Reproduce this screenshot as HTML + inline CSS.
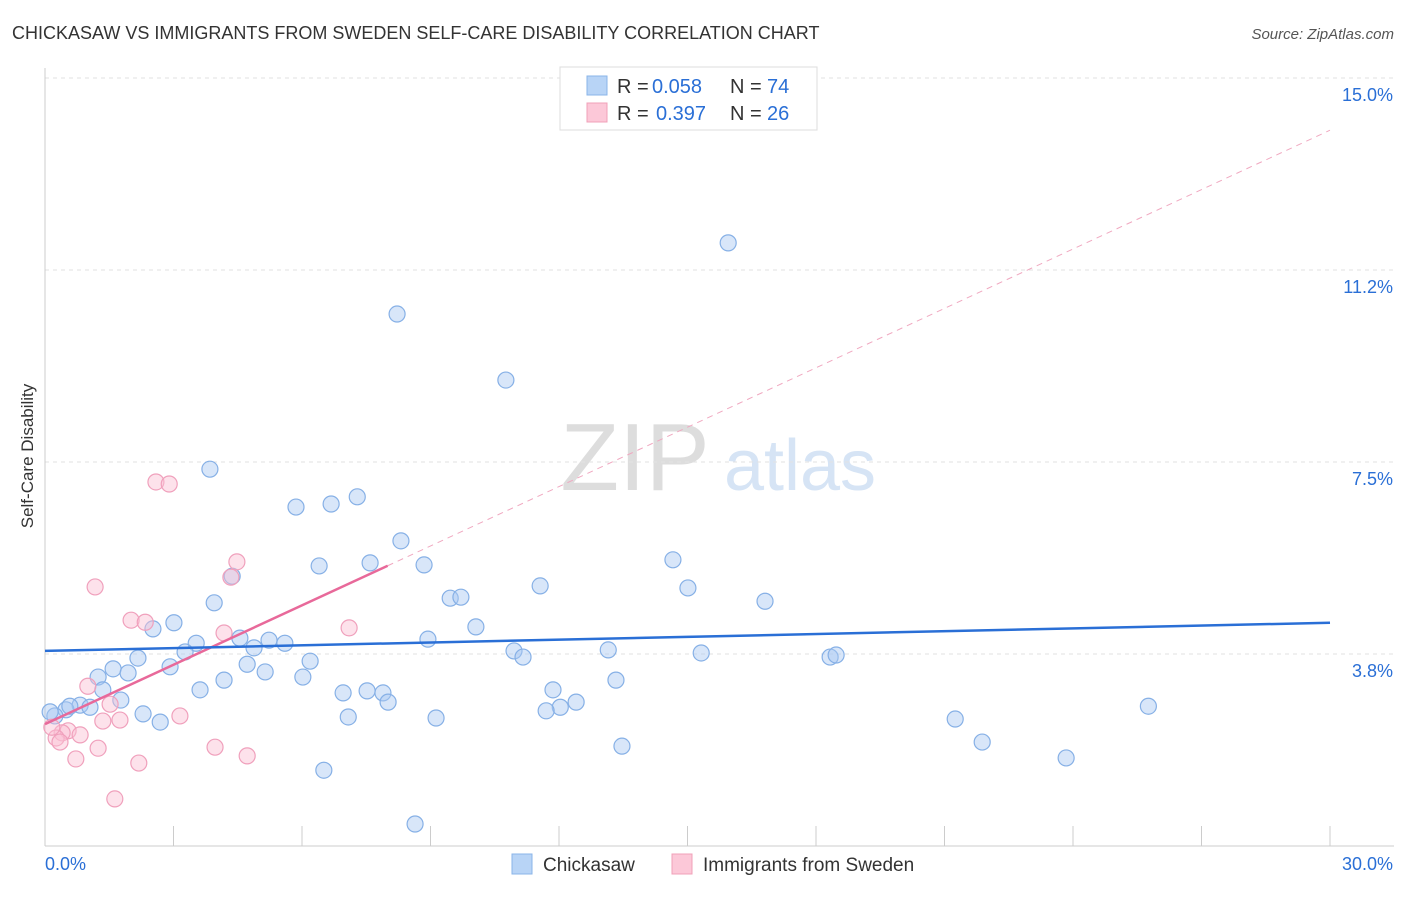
<!DOCTYPE html>
<html><head><meta charset="utf-8"><style>
body{margin:0;background:#fff;font-family:"Liberation Sans",sans-serif}
svg text{font-family:"Liberation Sans",sans-serif}
</style></head><body>
<svg id="c" width="1406" height="892">
<text x="12" y="39" font-size="18" fill="#333">CHICKASAW VS IMMIGRANTS FROM SWEDEN SELF-CARE DISABILITY CORRELATION CHART</text>
<text x="1394" y="39" font-size="15" fill="#555" text-anchor="end" font-style="italic">Source: ZipAtlas.com</text>
<text x="33" y="456" font-size="17" fill="#333" text-anchor="middle" transform="rotate(-90 33 456)">Self-Care Disability</text>
<g><text x="635" y="490" font-size="96" fill="#ddd" font-family="Liberation Serif" text-anchor="middle">ZIP</text><text x="800" y="490" font-size="72" fill="#d6e4f5" text-anchor="middle">atlas</text></g>
<g id="grid"></g><g id="marks"></g>
<g>
<rect x="560" y="67" width="257" height="63" fill="#fff" stroke="#ddd"/>
<rect x="587" y="76" width="20" height="19" fill="#b8d4f6" stroke="#8ab4e8"/>
<rect x="587" y="103" width="20" height="19" fill="#fcc8d8" stroke="#f0a0b8"/>
<text x="617" y="93" font-size="20" fill="#333">R =</text>
<text x="652" y="93" font-size="20" fill="#2a6fd6">0.058</text>
<text x="730" y="93" font-size="20" fill="#333">N =</text>
<text x="767" y="93" font-size="20" fill="#2a6fd6">74</text>
<text x="617" y="120" font-size="20" fill="#333">R =</text>
<text x="656" y="120" font-size="20" fill="#2a6fd6">0.397</text>
<text x="730" y="120" font-size="20" fill="#333">N =</text>
<text x="767" y="120" font-size="20" fill="#2a6fd6">26</text>
</g>
<g>
<rect x="512" y="854" width="20" height="20" fill="#b8d4f6" stroke="#8ab4e8"/>
<text x="543" y="871" font-size="19" fill="#333">Chickasaw</text>
<rect x="672" y="854" width="20" height="20" fill="#fcc8d8" stroke="#f0a0b8"/>
<text x="703" y="871" font-size="19" fill="#333">Immigrants from Sweden</text>
</g>
</svg>
<script>
const yTicks=[3.75,7.5,11.25,15];
const yTickLabels=["3.8%","7.5%","11.2%","15.0%"];
const xTicks=[0,3,6,9,12,15,18,21,24,27,30];
const blueX=[15.95,8.22,10.76,3.85,5.86,6.68,7.29,8.31,6.40,7.59,8.85,4.37,11.56,9.46,9.71,3.95,14.66,15.01,16.81,3.01,2.52,10.06,3.53,4.55,5.23,5.60,8.94,3.27,4.88,2.17,1.59,2.92,6.19,1.94,1.24,4.72,5.14,10.95,11.16,13.15,15.32,18.33,18.47,13.33,4.18,6.02,1.35,3.62,6.96,7.52,7.89,8.01,11.86,12.40,12.03,11.70,1.77,0.82,1.05,0.49,0.58,0.23,2.29,2.69,7.08,9.13,21.25,21.88,13.47,25.76,23.84,6.51,8.64,0.12];
const blueY=[11.78,10.39,9.10,7.36,6.62,6.68,6.82,5.96,5.47,5.53,5.49,5.27,5.08,4.84,4.86,4.75,5.59,5.04,4.78,4.36,4.24,4.28,3.96,4.06,4.02,3.96,4.04,3.79,3.87,3.67,3.46,3.50,3.61,3.38,3.30,3.55,3.40,3.81,3.69,3.83,3.77,3.69,3.73,3.24,3.24,3.30,3.05,3.05,2.99,3.03,2.99,2.81,3.05,2.81,2.71,2.64,2.85,2.75,2.71,2.66,2.73,2.54,2.58,2.42,2.52,2.50,2.48,2.03,1.95,2.73,1.72,1.48,0.43,2.62];
const pinkX=[2.59,2.90,4.48,4.34,1.17,2.01,2.34,7.10,4.18,1.00,1.52,1.75,1.35,3.15,0.54,0.82,0.40,0.26,0.16,0.35,1.24,3.97,4.72,0.72,2.19,1.63];
const pinkY=[7.11,7.07,5.55,5.25,5.06,4.41,4.37,4.26,4.16,3.12,2.77,2.46,2.44,2.54,2.25,2.17,2.21,2.11,2.32,2.03,1.91,1.93,1.76,1.70,1.62,0.92];
const blueTrend=[3.81,4.36];
const pinkTrend=[2.38,13.98];
const pinkSolidEnd=8.0;
const sx=v=>45+v*(1285/30), sy=v=>846-v*(192/3.75);
const NS="http://www.w3.org/2000/svg";
function mk(tag,attrs,parent){const e=document.createElementNS(NS,tag);for(const k in attrs)e.setAttribute(k,attrs[k]);parent.appendChild(e);return e;}
const grid=document.getElementById('grid'),marks=document.getElementById('marks');
yTicks.forEach((t,i)=>{
 let l=mk('line',{x1:45,x2:1394,y1:sy(t),y2:sy(t),stroke:'#e2e2e2','stroke-dasharray':'4,4'},grid);
 
 
 let tx=mk('text',{x:1393,y:sy(t)+23,'font-size':18,fill:'#2a6fd6','text-anchor':'end'},grid);tx.textContent=yTickLabels[i];
 
 
});
let ax=mk('line',{x1:45,x2:1394,y1:846,y2:846,stroke:'#ccc'},grid);


let ay=mk('line',{x1:45,x2:45,y1:68,y2:846,stroke:'#ccc'},grid);


xTicks.forEach(t=>{let l=mk('line',{x1:sx(t),x2:sx(t),y1:826,y2:846,stroke:'#ccc'},grid);
 
 });
let x0=mk('text',{x:45,y:870,'font-size':18,fill:'#2a6fd6'},grid);x0.textContent="0.0%";


let x1=mk('text',{x:1393,y:870,'font-size':18,fill:'#2a6fd6','text-anchor':'end'},grid);x1.textContent="30.0%";


blueX.forEach((x,i)=>{let c=mk('circle',{cx:sx(x),cy:sy(blueY[i]),r:8,fill:'rgba(168,200,242,0.45)',stroke:'#86b0e6','stroke-width':1.2},marks);
 
 });
pinkX.forEach((x,i)=>{let c=mk('circle',{cx:sx(x),cy:sy(pinkY[i]),r:8,fill:'rgba(250,190,210,0.45)',stroke:'#f0a0bc','stroke-width':1.2},marks);
 
 });
const pAt=x=>pinkTrend[0]+(pinkTrend[1]-pinkTrend[0])*x/30;
let pd=mk('line',{x1:sx(pinkSolidEnd),y1:sy(pAt(pinkSolidEnd)),x2:sx(30),y2:sy(pinkTrend[1]),stroke:'#f0a8c0','stroke-width':1,'stroke-dasharray':'6,5'},marks);


let ps=mk('line',{x1:sx(0),y1:sy(pinkTrend[0]),x2:sx(pinkSolidEnd),y2:sy(pAt(pinkSolidEnd)),stroke:'#e8699a','stroke-width':2.5},marks);


let bt=mk('line',{x1:sx(0),y1:sy(blueTrend[0]),x2:sx(30),y2:sy(blueTrend[1]),stroke:'#2a6fd6','stroke-width':2.5},marks);


</script>
</body></html>
